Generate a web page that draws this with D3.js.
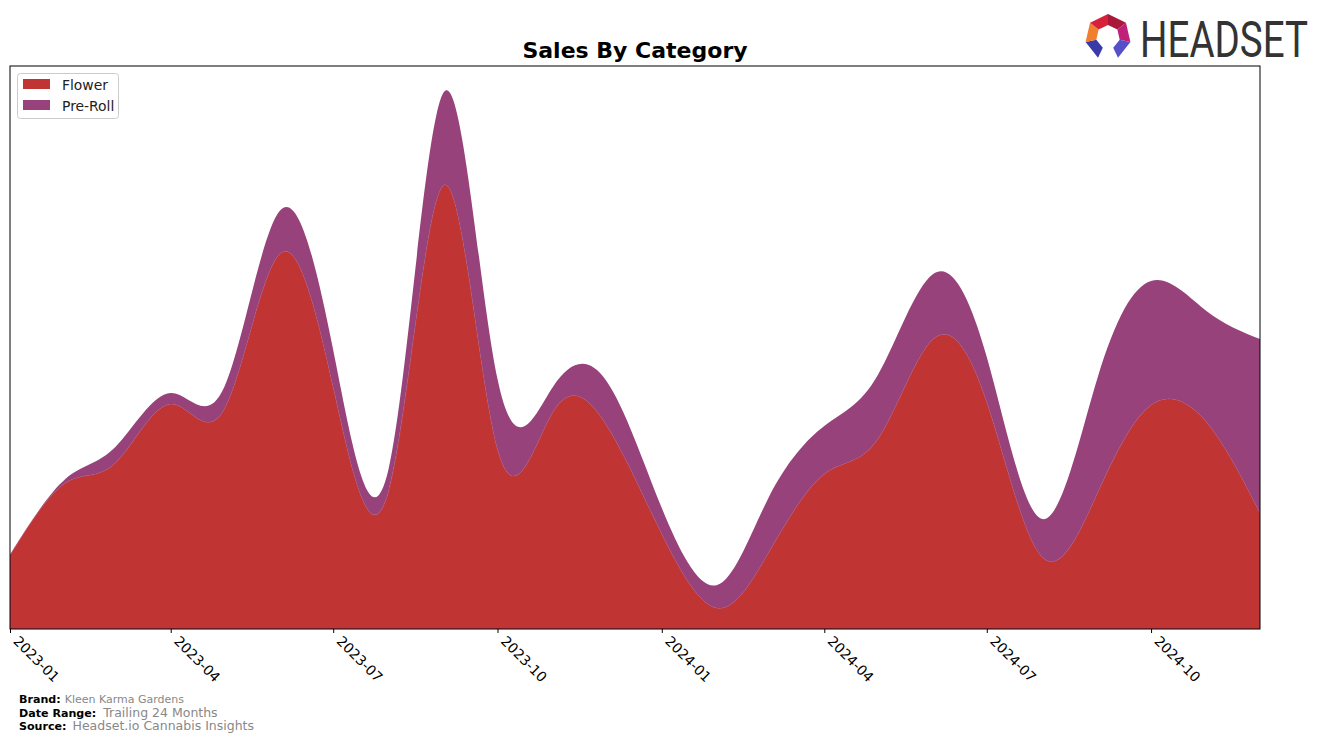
<!DOCTYPE html>
<html>
<head>
<meta charset="utf-8">
<script src="https://cdn.jsdelivr.net/npm/d3@7"></script>
<style>
  html, body { margin: 0; padding: 0; background: #fff; }
  svg { display: block; font-family: "DejaVu Sans", sans-serif; }
</style>
</head>
<body>
<svg id="chart" width="1324" height="743"></svg>
<script>
const months = ["2023-01","2023-02","2023-03","2023-04","2023-05","2023-06","2023-07","2023-08","2023-09","2023-10","2023-11","2023-12",
                "2024-01","2024-02","2024-03","2024-04","2024-05","2024-06","2024-07","2024-08","2024-09","2024-10","2024-11","2024-12"];
const flower  = [74,146,166,225,220,375,242,138,444,180,217,204,95,21,77,155,190,290,227,72,136,224,207,116];
const preRoll = [0,4,16,11,22,43,37,22,93,70,25,44,26,23,55,48,64,65,45,38,115,124,111,174];
const seriesNames = ["Flower","Pre-Roll"];
const seriesColors = ["#c13434","#97427a"];
const tickLabels = ["2023-01","2023-04","2023-07","2023-10","2024-01","2024-04","2024-07","2024-10"];
const yMax = 563;

const svg = d3.select("#chart");
const m = {left: 10, right: 1260, top: 66, bottom: 629};
const parse = d3.timeParse("%Y-%m");
const dates = months.map(parse);

const x = d3.scaleTime().domain([dates[0], dates[dates.length-1]]).range([m.left, m.right]);
const y = d3.scaleLinear().domain([0, yMax]).range([m.bottom, m.top]);

const rows = months.map((mo, i) => ({date: dates[i], "Flower": flower[i], "Pre-Roll": preRoll[i]}));
const stack = d3.stack().keys(seriesNames)(rows);

const area = d3.area()
  .x(d => x(d.data.date))
  .y0(d => y(d[0]))
  .y1(d => y(d[1]))
  .curve(d3.curveNatural);

svg.append("defs").append("clipPath").attr("id","clip")
  .append("rect").attr("x", m.left).attr("y", m.top).attr("width", m.right-m.left).attr("height", m.bottom-m.top);

svg.append("g").attr("clip-path","url(#clip)")
  .selectAll("path").data(stack).join("path")
  .attr("d", area)
  .attr("fill", (d,i) => seriesColors[i])
  .attr("stroke", (d,i) => i === 0 ? "#b65a70" : "none")
  .attr("stroke-width", 0.6);

// frame
svg.append("rect").attr("x", m.left).attr("y", m.top)
  .attr("width", m.right-m.left).attr("height", m.bottom-m.top)
  .attr("fill","none").attr("stroke","#000").attr("stroke-width",1);

// x axis
const tickDates = tickLabels.map(parse);
const xAxis = d3.axisBottom(x).tickValues(tickDates).tickFormat(d3.timeFormat("%Y-%m")).tickSize(4).tickSizeOuter(0);
const gx = svg.append("g").attr("transform", `translate(0,${m.bottom})`).call(xAxis);
gx.select(".domain").remove();
gx.selectAll(".tick line").attr("stroke","#000");
gx.selectAll(".tick text")
  .attr("font-size", 13.9).attr("fill","#000")
  .attr("font-family","DejaVu Sans, sans-serif")
  .attr("text-anchor","start")
  .attr("transform","translate(9,6) rotate(45)")
  .attr("x", 0).attr("y", 0).attr("dy","0.72em");

// title
svg.append("text").attr("x", 635).attr("y", 58).attr("text-anchor","middle")
  .attr("font-size", 22).attr("font-weight","bold").attr("fill","#000").text("Sales By Category");

// legend
const lg = svg.append("g");
lg.append("rect").attr("x",17.5).attr("y",73.5).attr("width",101).attr("height",45).attr("rx",3)
  .attr("fill","#fff").attr("fill-opacity",0.8).attr("stroke","#ccc");
seriesNames.forEach((n,i) => {
  lg.append("rect").attr("x",23).attr("y",79 + i*21).attr("width",27).attr("height",10).attr("fill",seriesColors[i]);
  lg.append("text").attr("x",62).attr("y",90 + i*21).attr("font-size",13.9).attr("fill","#222").text(n);
});

// footer
const foot = [["Brand:","Kleen Karma Gardens",11,4],["Date Range:","Trailing 24 Months",12.5,7],["Source:","Headset.io Cannabis Insights",12.5,6]];
foot.forEach((f,i) => {
  const t = svg.append("text").attr("x",19).attr("y",703 + i*13.5).attr("font-size",11.1);
  t.append("tspan").attr("font-weight","bold").attr("fill","#000").text(f[0]);
  t.append("tspan").attr("fill","#888").attr("font-size",f[2]).attr("dx",f[3]).text(f[1]);
});

// logo
const logo = svg.append("g").attr("transform","translate(1108,37)");
const r = 23, ri = 12;
const ang = k => -Math.PI/2 + k*2*Math.PI/7;
const pts = d3.range(7).map(k => [r*Math.cos(ang(k)), r*Math.sin(ang(k))]);
const inner = d3.range(7).map(k => [ri*Math.cos(ang(k)), ri*Math.sin(ang(k))]);
const icoColors = ["#a8183a","#c0207a","#5550c8","#000","#3a3aa8","#f08030","#d8203a"];
for (let k = 0; k < 7; k++) {
  if (k === 3) continue;
  const k2 = (k+1)%7;
  logo.append("path").attr("d", `M${pts[k]}L${pts[k2]}L${inner[k2]}L${inner[k]}Z`).attr("fill", icoColors[k]);
}
const brand = svg.append("text").attr("x",0).attr("y",0)
  .attr("font-family","Roboto, 'DejaVu Sans', sans-serif")
  .attr("font-size",50).attr("fill","#333").text("HEADSET");
const w = brand.node().getComputedTextLength();
brand.attr("transform", `translate(1140,57) scale(${168/w},1)`);
</script>
</body>
</html>
